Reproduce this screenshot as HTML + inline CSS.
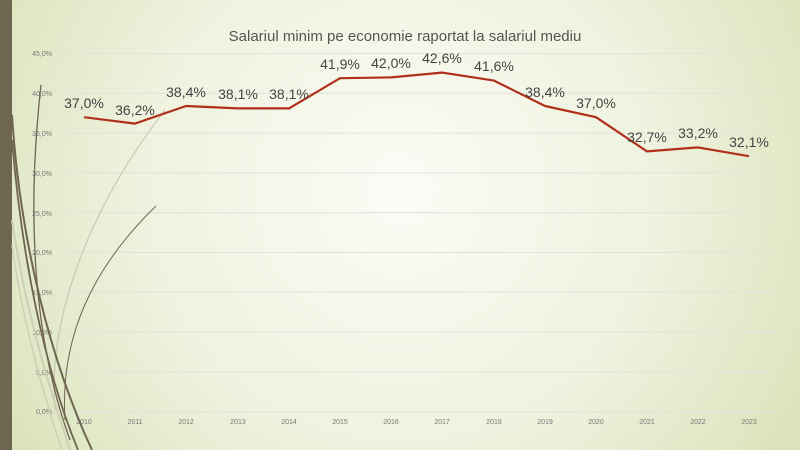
<!DOCTYPE html>
<html><head><meta charset="utf-8"><style>
body{margin:0;width:800px;height:450px;overflow:hidden;font-family:"Liberation Sans",sans-serif}
</style></head><body>
<svg width="800" height="450" viewBox="0 0 800 450" xmlns="http://www.w3.org/2000/svg">
<defs>
<radialGradient id="bg" cx="400" cy="190" r="480" gradientUnits="userSpaceOnUse">
<stop offset="0" stop-color="#fbfcf6"/><stop offset="0.55" stop-color="#eef2de"/><stop offset="1" stop-color="#d9e2b8"/>
</radialGradient></defs>
<rect width="800" height="450" fill="url(#bg)"/>
<rect x="0" y="0" width="12" height="450" fill="#6e6650"/>
<g stroke="#e0e2dc" stroke-width="1">
<line x1="58" x2="775" y1="53.5" y2="53.5"/><line x1="58" x2="775" y1="93.3" y2="93.3"/>
<line x1="58" x2="775" y1="133.1" y2="133.1"/><line x1="58" x2="775" y1="172.9" y2="172.9"/>
<line x1="58" x2="775" y1="212.7" y2="212.7"/><line x1="58" x2="775" y1="252.5" y2="252.5"/>
<line x1="58" x2="775" y1="292.3" y2="292.3"/><line x1="58" x2="775" y1="332.1" y2="332.1"/>
<line x1="58" x2="775" y1="371.9" y2="371.9"/><line x1="58" x2="775" y1="411.7" y2="411.7"/>
</g>
<g font-size="7" fill="#777" text-anchor="end">
<text x="52" y="56">45,0%</text><text x="52" y="96">40,0%</text><text x="52" y="136">35,0%</text>
<text x="52" y="176">30,0%</text><text x="52" y="216">25,0%</text><text x="52" y="255">20,0%</text>
<text x="52" y="295">15,0%</text><text x="52" y="335">10,0%</text><text x="52" y="375">5,0%</text>
<text x="52" y="414">0,0%</text>
</g>
<g font-size="7" fill="#777" text-anchor="middle">
<text x="84" y="424">2010</text><text x="135" y="424">2011</text><text x="186" y="424">2012</text>
<text x="238" y="424">2013</text><text x="289" y="424">2014</text><text x="340" y="424">2015</text>
<text x="391" y="424">2016</text><text x="442" y="424">2017</text><text x="494" y="424">2018</text>
<text x="545" y="424">2019</text><text x="596" y="424">2020</text><text x="647" y="424">2021</text>
<text x="698" y="424">2022</text><text x="749" y="424">2023</text>
</g>
<!-- decorative curves -->
<g fill="none">
<path d="M55 410 C48 330 80 220 165 110" stroke="#c9cab5" stroke-width="1.2"/>
<path d="M65 420 C60 340 90 270 156 206" stroke="#6e6650" stroke-width="1"/>
<path d="M41 85 C28 200 30 330 70 440" stroke="#6e6650" stroke-width="1.3"/>
<path d="M12 115 C20 240 50 360 92 450" stroke="#6e6650" stroke-width="2"/>
<path d="M12 140 C22 260 45 370 78 450" stroke="#6e6650" stroke-width="1.8"/>
<path d="M12 220 C25 310 50 390 70 450" stroke="#cdd0b6" stroke-width="2"/>
<path d="M12 245 C22 320 45 400 62 450" stroke="#cdd0b6" stroke-width="1.5"/>
</g>
<polyline fill="none" stroke="#b0301a" stroke-width="2.2" stroke-linejoin="round"
points="84,117.2 135,123.6 186,106.0 238,108.4 289,108.4 340,78.2 391,77.4 442,72.6 494,80.6 545,106.0 596,117.2 647,151.4 698,147.4 749,156.2"/>
<g font-size="14" fill="#444" text-anchor="middle">
<text x="84" y="108">37,0%</text><text x="135" y="115">36,2%</text><text x="186" y="97">38,4%</text>
<text x="238" y="99">38,1%</text><text x="289" y="99">38,1%</text><text x="340" y="69">41,9%</text>
<text x="391" y="68">42,0%</text><text x="442" y="63">42,6%</text><text x="494" y="71">41,6%</text>
<text x="545" y="97">38,4%</text><text x="596" y="108">37,0%</text><text x="647" y="142">32,7%</text>
<text x="698" y="138">33,2%</text><text x="749" y="147">32,1%</text>
</g>
<text x="405" y="41" font-size="15" fill="#555" text-anchor="middle">Salariul minim pe economie raportat la salariul mediu</text>
</svg>
</body></html>
